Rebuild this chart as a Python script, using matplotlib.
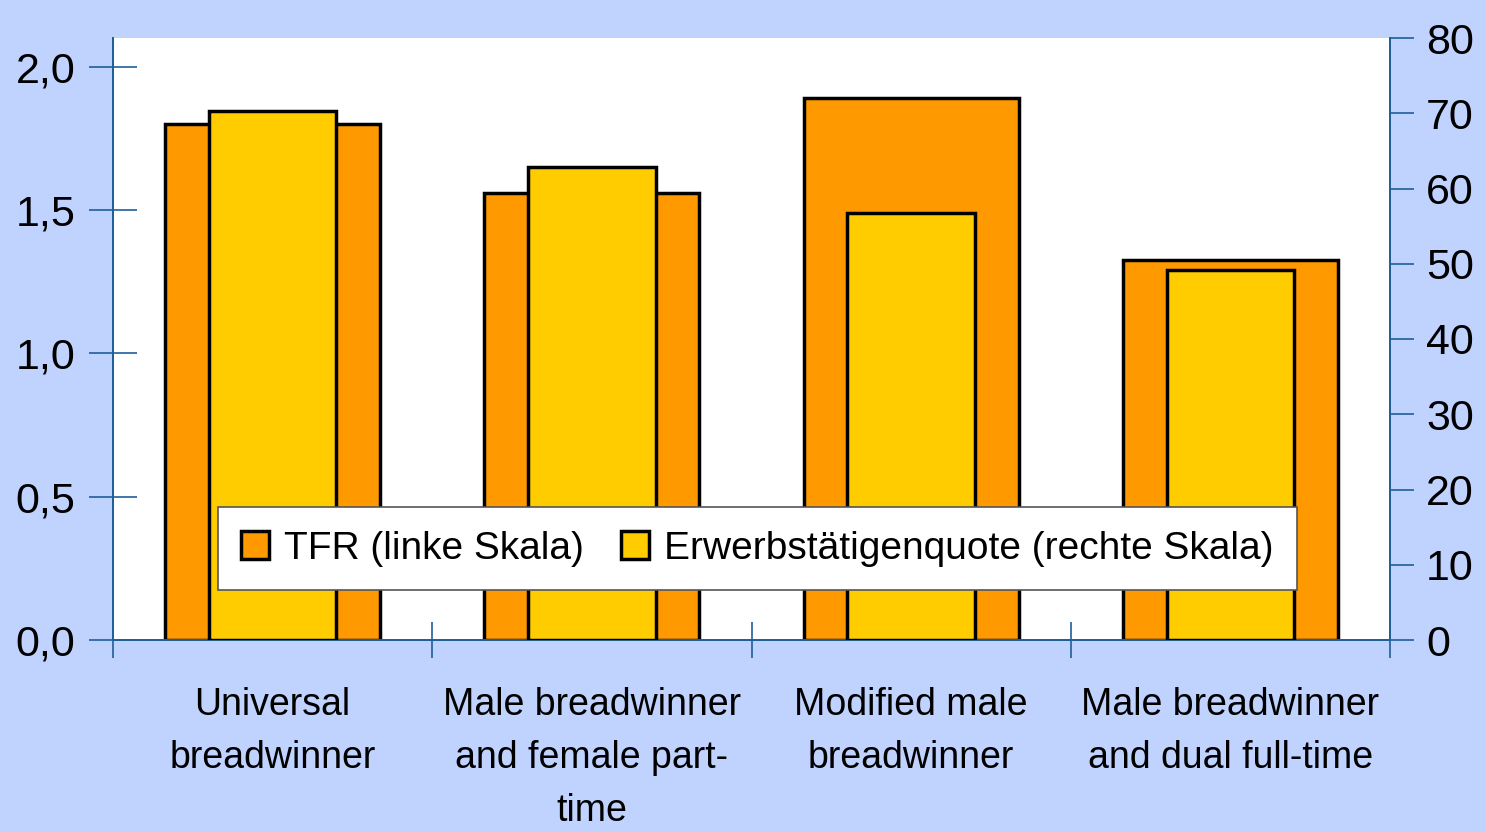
import numpy as np
import matplotlib
matplotlib.use('Agg')
import matplotlib.pyplot as plt
from matplotlib.patches import Patch

plt.rcParams['font.family'] = ['Liberation Sans', 'DejaVu Sans']

categories = ['Universal\nbreadwinner', 'Male breadwinner\nand female part-\ntime',
              'Modified male\nbreadwinner', 'Male breadwinner\nand dual full-time']
tfr = [1.80, 1.56, 1.89, 1.325]
quote = [70.3, 62.9, 56.7, 49.2]

orange = '#FF9900'
yellow = '#FFCC00'
bg = '#C0D2FE'
axcol = '#1F5F9A'

fig = plt.figure(figsize=(14.85, 8.32), dpi=100, facecolor=bg)
ax = fig.add_axes([113/1485, 1-640/832, (1390-113)/1485, (640-38)/832])
ax.set_facecolor('white')
x = np.arange(len(categories))

ax.bar(x, tfr, width=0.674, color=orange, edgecolor='black', linewidth=2.5, zorder=2)
ax.set_xlim(-0.5, 3.5)
ax.set_ylim(0, 2.1)
ax.set_yticks([0, 0.5, 1.0, 1.5, 2.0])
ax.set_yticklabels(['0,0', '0,5', '1,0', '1,5', '2,0'])

ax2 = ax.twinx()
ax2.bar(x, quote, width=0.40, color=yellow, edgecolor='black', linewidth=2.5, zorder=3)
ax2.set_ylim(0, 80)
ax2.set_yticks(range(0, 81, 10))

for a in (ax, ax2):
    for s in a.spines.values():
        s.set_color(axcol)
        s.set_linewidth(1.3)
    a.spines['top'].set_visible(False)

ax.tick_params(axis='y', direction='inout', length=34, width=1.2, color=axcol,
               labelsize=31, pad=10)
ax2.tick_params(axis='y', direction='out', length=17, width=1.2, color=axcol,
                labelsize=31, pad=9)
ax.set_xticks([-0.5, 0.5, 1.5, 2.5, 3.5])
ax.set_xticklabels([])
ax.set_xticks(x, minor=True)
ax.set_xticklabels(categories, minor=True, fontsize=27, linespacing=1.6)
ax.tick_params(axis='x', which='major', direction='inout', length=26, width=1.2, color=axcol)
ax.tick_params(axis='x', which='minor', length=0, pad=34)

handles = [Patch(facecolor=orange, edgecolor='black', linewidth=2.5),
           Patch(facecolor=yellow, edgecolor='black', linewidth=2.5)]
leg = ax2.legend(handles, ['TFR (linke Skala)', 'Erwerbstätigenquote (rechte Skala)'],
                 loc='lower left', bbox_to_anchor=((218-113)/1277, (640-590)/602, (1297-218)/1277, 82/602),
                 mode='expand', ncol=2, fontsize=28, frameon=True, fancybox=False,
                 framealpha=1, edgecolor='#555555', handlelength=0.7, handleheight=0.7,
                 handletextpad=0.4, columnspacing=1.5, borderaxespad=0, borderpad=0.6)
leg.get_frame().set_linewidth(1.2)
leg.set_zorder(5)

fig.savefig('out.png', dpi=100, facecolor=bg)
